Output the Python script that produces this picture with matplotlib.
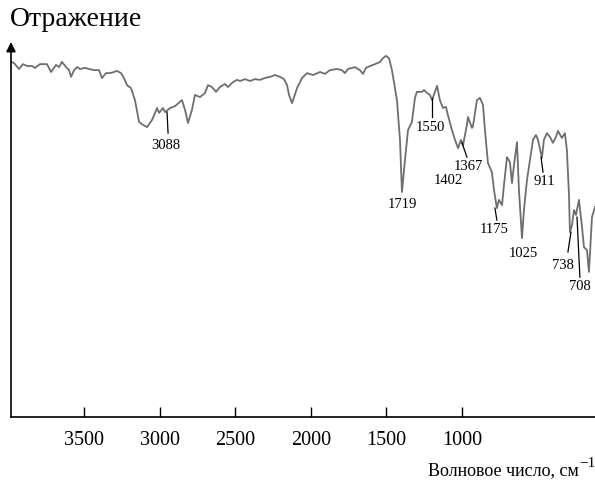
import matplotlib
matplotlib.use('Agg')
import matplotlib.pyplot as plt

plt.rcParams['font.family'] = ['Liberation Serif', 'DejaVu Serif']

# spectrum (x in the axis' own tick units)
wavenumber = [3983, 3963, 3930, 3904, 3877, 3844, 3824, 3791, 3745, 3718, 3685, 3665, 3646, 3619,
              3599, 3586, 3566, 3546, 3527, 3493, 3467, 3434, 3401, 3381, 3355, 3328, 3302, 3282,
              3255, 3236, 3216, 3189, 3163, 3136, 3110, 3083, 3050, 3017, 3004, 2978, 2964, 2931,
              2898, 2852, 2832, 2812, 2786, 2766, 2733, 2700, 2680, 2654, 2627, 2601, 2568, 2548,
              2515, 2488, 2468, 2435, 2402, 2369, 2336, 2303, 2270, 2237, 2204, 2177, 2157, 2144,
              2124, 2091, 2058, 2025, 1985, 1939, 1906, 1873, 1827, 1794, 1774, 1754, 1708, 1675,
              1655, 1635, 1608, 1575, 1542, 1522, 1503, 1483, 1463, 1443, 1430, 1410, 1397, 1377,
              1357, 1331, 1311, 1298, 1265, 1251, 1231, 1212, 1198, 1165, 1146, 1126, 1106, 1093,
              1066, 1046, 1026, 1007, 993, 967, 960, 934, 927, 901, 881, 861, 848, 828, 802, 788,
              769, 755, 735, 722, 702, 683, 669, 656, 636, 623, 603, 590, 570, 550, 530, 511, 497,
              471, 458, 438, 418, 398, 378, 365, 339, 319, 306, 292, 286, 272, 259, 246, 226, 206,
              193, 173, 160, 140, 120]
reflectance = [94.7, 94.4, 92.8, 94.1, 93.6, 93.6, 93.1, 94.1, 94.1, 92.0, 93.9, 93.3, 94.7, 93.3,
               92.5, 90.7, 92.5, 93.3, 92.8, 93.1, 92.8, 92.5, 92.5, 90.4, 91.7, 91.7, 92.0, 92.3,
               91.7, 90.4, 88.5, 87.7, 84.5, 78.7, 77.9, 77.3, 79.2, 82.4, 81.1, 82.4, 81.3, 82.4,
               82.9, 84.5, 81.9, 78.4, 81.9, 85.9, 85.3, 86.4, 88.5, 88.0, 86.7, 88.0, 88.8, 88.0,
               89.3, 89.9, 89.6, 90.1, 89.6, 90.1, 89.9, 90.4, 90.7, 91.2, 90.7, 90.1, 88.5, 85.9,
               83.7, 87.7, 90.4, 91.7, 91.2, 92.0, 91.5, 92.5, 92.8, 92.5, 91.7, 92.8, 93.3, 92.5,
               91.5, 93.1, 93.6, 94.1, 94.7, 95.7, 96.3, 95.7, 92.5, 87.7, 84.5, 73.9, 60.0, 68.5,
               76.5, 78.7, 85.1, 86.7, 86.7, 87.2, 86.4, 85.9, 84.5, 88.3, 84.5, 82.4, 82.7, 80.5,
               76.5, 73.9, 71.7, 73.9, 72.5, 77.9, 80.0, 77.1, 77.6, 84.5, 85.1, 83.2, 76.5, 67.7,
               65.3, 60.5, 55.7, 57.9, 56.5, 61.9, 69.3, 68.0, 62.4, 67.2, 73.3, 60.5, 47.7, 55.2,
               63.2, 68.5, 73.9, 75.2, 73.9, 69.1, 73.9, 75.7, 74.7, 73.1, 74.7, 76.3, 74.4, 75.7,
               71.2, 59.2, 49.3, 51.2, 55.2, 53.9, 57.9, 50.7, 45.3, 44.5, 38.7, 53.3, 56.0]

xticks = [3500, 3000, 2500, 2000, 1500, 1000]

# peak labels: text, label position, pointer line (or None)
peak_text = ['3088', '1719', '1550', '1367', '1402', '1175', '1025', '911', '738', '708']
label_x = [2958, 1397, 1212, 960, 1093, 788, 597, 458, 332, 220]
label_y = [72.3, 56.8, 77.1, 66.9, 63.2, 49.9, 43.7, 62.9, 40.5, 34.7]
pointers = [((2951, 2944), (81.3, 75.7)), None, ((1198, 1198), (85.1, 80.0)),
            ((1000, 967), (73.1, 69.3)), None, ((782, 769), (55.7, 52.5)), None,
            ((477, 464), (69.3, 65.3)), ((279, 299), (49.3, 44.0)), ((239, 220), (53.3, 37.3))]

fig = plt.figure(figsize=(5.95, 4.86), dpi=100)
ax = fig.add_axes([11 / 595, 69 / 486, 584 / 595, 375 / 486])

ax.plot(wavenumber, reflectance, color='#6e6e6e', lw=1.3)

for txt, lx, ly, p in zip(peak_text, label_x, label_y, pointers):
    ax.text(lx, ly, txt, ha='center', va='center', fontsize=10.5)
    if p is not None:
        ax.plot(p[0], p[1], color='black', lw=0.9)

ax.set_xlim(3983, 120)
ax.set_ylim(0, 100)
ax.set_xticks(xticks)
ax.set_yticks([])
ax.tick_params(axis='x', direction='in', length=7, width=1, labelsize=14.5, pad=10)

for s in ['top', 'right', 'left']:
    ax.spines[s].set_visible(False)
ax.spines['bottom'].set_linewidth(1.2)

ax.annotate('', xy=(0, 1.0), xytext=(0, 0), xycoords='axes fraction',
            arrowprops=dict(arrowstyle='-|>', color='black', lw=1.2, mutation_scale=14,
                            shrinkA=0, shrinkB=0))

fig.text(10 / 595, 1 - 19 / 486, 'Отражение', ha='left', va='center', fontsize=20)
fig.text(579 / 595, 1 - 471 / 486, 'Волновое число, см', ha='right', va='center', fontsize=13)
fig.text(579 / 595, 1 - 463 / 486, '\u22121', ha='left', va='center', fontsize=11)

fig.savefig('out.png', dpi=100)
